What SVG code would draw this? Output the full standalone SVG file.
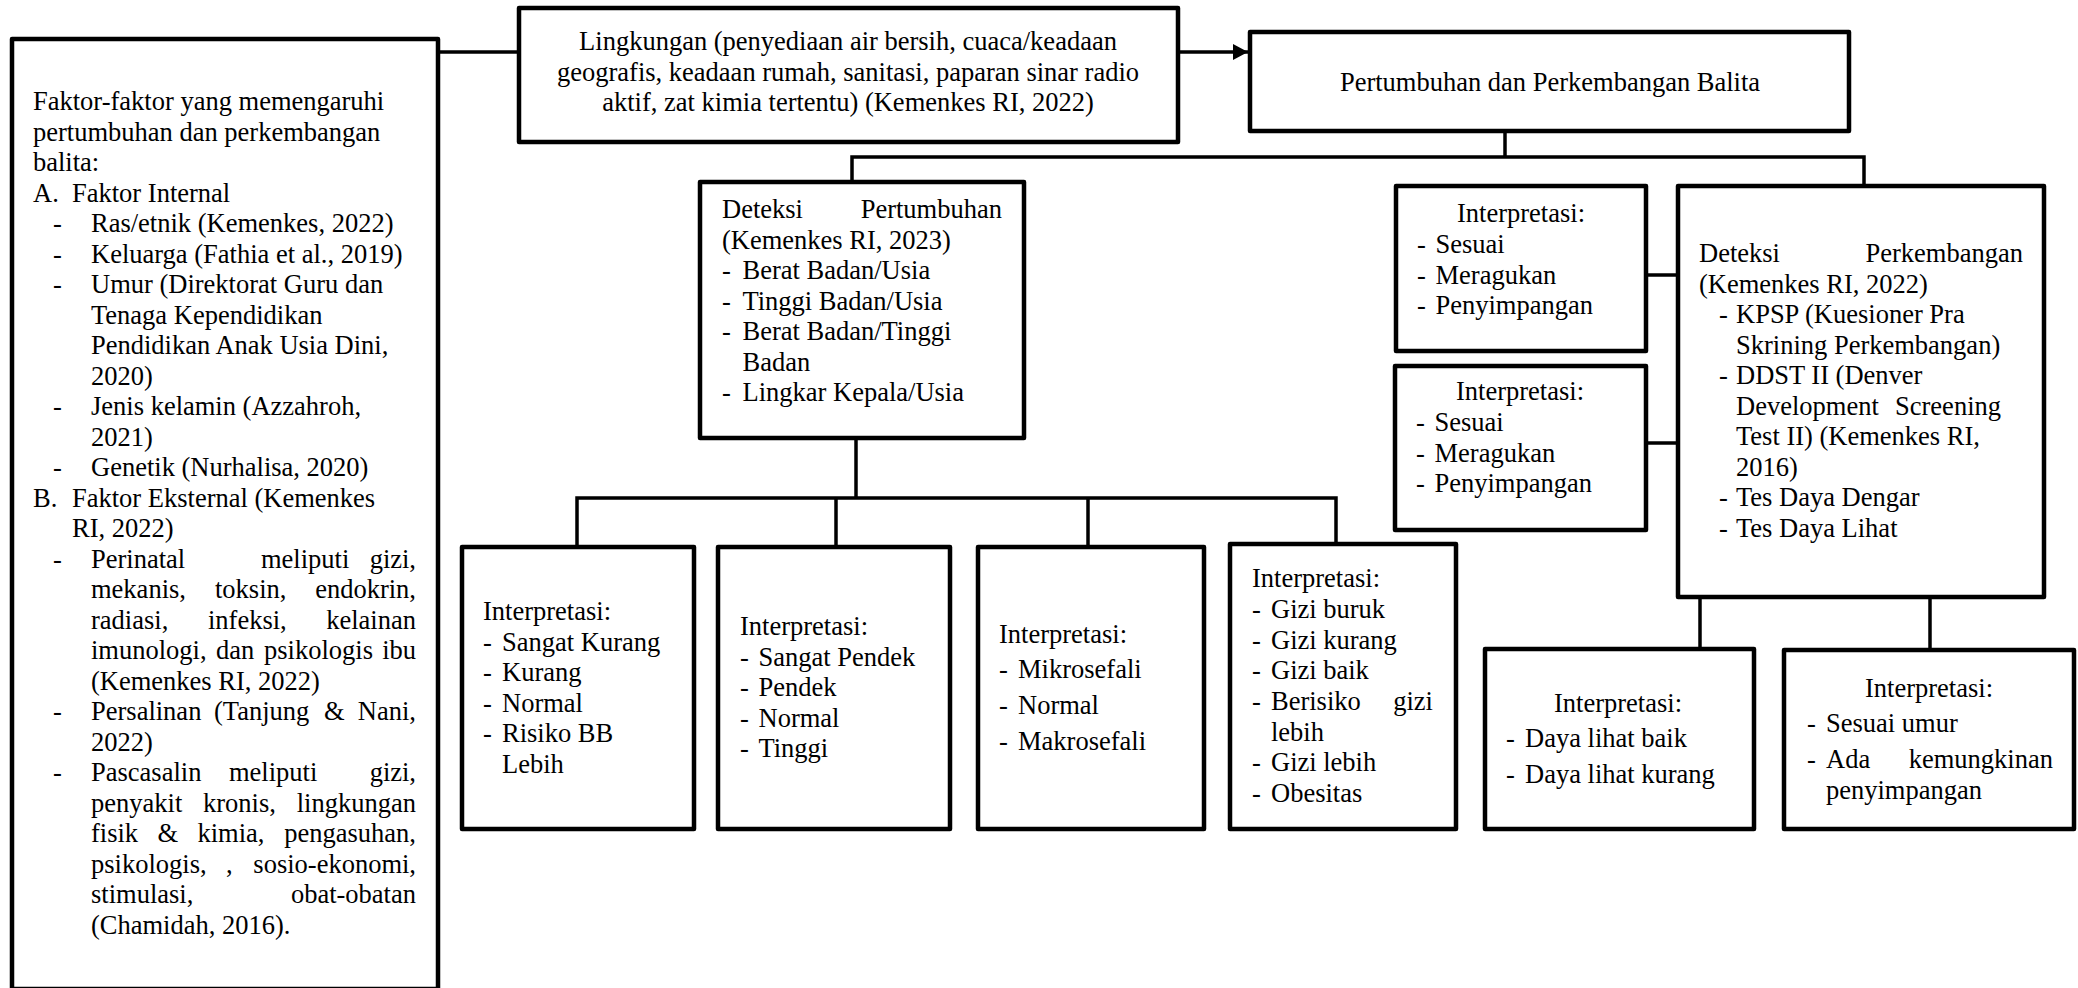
<svg xmlns="http://www.w3.org/2000/svg" width="2078" height="988" viewBox="0 0 2078 988">
<style>
.box{fill:#fff;stroke:#000;stroke-width:4.5;stroke-linejoin:round}
.conn{stroke:#000;stroke-width:3.5;fill:none}
text{font-family:"Liberation Serif","Times New Roman",serif;font-size:26.5px;fill:#000}
.c{text-anchor:middle}
.e{text-anchor:end}
</style>
<defs>
<marker id="arr" markerUnits="userSpaceOnUse" markerWidth="15" markerHeight="16" refX="15" refY="8" orient="auto">
<path d="M0,0 L15,8 L0,16 z" fill="#000"/>
</marker>
</defs>
<rect width="2078" height="988" fill="#fff"/>
<g id="connectors">
<line class="conn" x1="440" y1="52" x2="519" y2="52"/>
<line class="conn" x1="1180" y1="52" x2="1248" y2="52" marker-end="url(#arr)"/>
<polyline class="conn" points="1505,133 1505,157"/>
<polyline class="conn" points="852,182 852,157 1864,157 1864,186"/>
<polyline class="conn" points="856,440 856,498"/>
<polyline class="conn" points="577,547 577,498 1336,498 1336,544"/>
<line class="conn" x1="836" y1="498" x2="836" y2="547"/>
<line class="conn" x1="1088" y1="498" x2="1088" y2="547"/>
<line class="conn" x1="1648" y1="275" x2="1678" y2="275"/>
<line class="conn" x1="1648" y1="443" x2="1678" y2="443"/>
<line class="conn" x1="1700" y1="598" x2="1700" y2="649"/>
<line class="conn" x1="1930" y1="598" x2="1930" y2="650"/>
</g>
<g id="faktor">
<rect class="box" x="12" y="39" width="426" height="950"/>
<text x="33" y="110">Faktor-faktor yang memengaruhi</text>
<text x="33" y="140.5">pertumbuhan dan perkembangan</text>
<text x="33" y="171">balita:</text>
<text x="33" y="201.5">A.</text><text x="72" y="201.5">Faktor Internal</text>
<text x="53" y="232">-</text><text x="91" y="232">Ras/etnik (Kemenkes, 2022)</text>
<text x="53" y="262.5">-</text><text x="91" y="262.5">Keluarga (Fathia et al., 2019)</text>
<text x="53" y="293">-</text><text x="91" y="293">Umur (Direktorat Guru dan</text>
<text x="91" y="323.5">Tenaga Kependidikan</text>
<text x="91" y="354">Pendidikan Anak Usia Dini,</text>
<text x="91" y="384.5">2020)</text>
<text x="53" y="415">-</text><text x="91" y="415">Jenis kelamin (Azzahroh,</text>
<text x="91" y="445.5">2021)</text>
<text x="53" y="476">-</text><text x="91" y="476">Genetik (Nurhalisa, 2020)</text>
<text x="33" y="506.5">B.</text><text x="72" y="506.5">Faktor Eksternal (Kemenkes</text>
<text x="72" y="537">RI, 2022)</text>
<text x="53" y="567.5">-</text><text x="91" y="567.5">Perinatal</text><text x="261" y="567.5">meliputi</text><text class="e" x="416" y="567.5">gizi,</text>
<text x="91" y="598">mekanis,</text><text x="215" y="598">toksin,</text><text class="e" x="416" y="598">endokrin,</text>
<text x="91" y="628.5">radiasi,</text><text x="208" y="628.5">infeksi,</text><text class="e" x="416" y="628.5">kelainan</text>
<text x="91" y="659">imunologi,</text><text x="216" y="659">dan</text><text x="264" y="659">psikologis</text><text class="e" x="416" y="659">ibu</text>
<text x="91" y="689.5">(Kemenkes RI, 2022)</text>
<text x="53" y="720">-</text><text x="91" y="720">Persalinan</text><text x="214" y="720">(Tanjung</text><text x="324" y="720">&amp;</text><text class="e" x="416" y="720">Nani,</text>
<text x="91" y="750.5">2022)</text>
<text x="53" y="781">-</text><text x="91" y="781">Pascasalin</text><text x="229" y="781">meliputi</text><text class="e" x="416" y="781">gizi,</text>
<text x="91" y="811.5">penyakit</text><text x="203" y="811.5">kronis,</text><text class="e" x="416" y="811.5">lingkungan</text>
<text x="91" y="842">fisik</text><text x="157.5" y="842">&amp;</text><text x="197.5" y="842">kimia,</text><text class="e" x="416" y="842">pengasuhan,</text>
<text x="91" y="872.5">psikologis,</text><text x="226" y="872.5">,</text><text class="e" x="416" y="872.5">sosio-ekonomi,</text>
<text x="91" y="903">stimulasi,</text><text class="e" x="416" y="903">obat-obatan</text>
<text x="91" y="933.5">(Chamidah, 2016).</text>
</g>
<g id="lingkungan">
<rect class="box" x="519" y="8" width="659" height="134"/>
<text class="c" x="848" y="50">Lingkungan (penyediaan air bersih, cuaca/keadaan</text>
<text class="c" x="848" y="80.5">geografis, keadaan rumah, sanitasi, paparan sinar radio</text>
<text class="c" x="848" y="111">aktif, zat kimia tertentu) (Kemenkes RI, 2022)</text>
</g>
<g id="pertumbuhan-perkembangan">
<rect class="box" x="1250" y="32" width="599" height="99"/>
<text class="c" x="1550" y="91">Pertumbuhan dan Perkembangan Balita</text>
</g>
<g id="deteksi-pertumbuhan">
<rect class="box" x="700" y="182" width="324" height="256"/>
<text x="722" y="218">Deteksi</text><text class="e" x="1002" y="218">Pertumbuhan</text>
<text x="722" y="248.5">(Kemenkes RI, 2023)</text>
<text x="722" y="279">-</text><text x="742.5" y="279">Berat Badan/Usia</text>
<text x="722" y="309.5">-</text><text x="742.5" y="309.5">Tinggi Badan/Usia</text>
<text x="722" y="340">-</text><text x="742.5" y="340">Berat Badan/Tinggi</text>
<text x="742.5" y="370.5">Badan</text>
<text x="722" y="401">-</text><text x="742.5" y="401">Lingkar Kepala/Usia</text>
</g>
<g id="interpretasi-1">
<rect class="box" x="1396" y="186" width="250" height="165"/>
<text class="c" x="1521" y="222">Interpretasi:</text>
<text x="1417" y="253">-</text><text x="1435.5" y="253">Sesuai</text>
<text x="1417" y="283.5">-</text><text x="1435.5" y="283.5">Meragukan</text>
<text x="1417" y="314">-</text><text x="1435.5" y="314">Penyimpangan</text>
</g>
<g id="interpretasi-2">
<rect class="box" x="1395" y="366" width="251" height="164"/>
<text class="c" x="1520" y="400">Interpretasi:</text>
<text x="1416" y="431">-</text><text x="1434.5" y="431">Sesuai</text>
<text x="1416" y="461.5">-</text><text x="1434.5" y="461.5">Meragukan</text>
<text x="1416" y="492">-</text><text x="1434.5" y="492">Penyimpangan</text>
</g>
<g id="deteksi-perkembangan">
<rect class="box" x="1678" y="186" width="366" height="411"/>
<text x="1699" y="262">Deteksi</text><text class="e" x="2023" y="262">Perkembangan</text>
<text x="1699" y="292.5">(Kemenkes RI, 2022)</text>
<text x="1719" y="323">-</text><text x="1736" y="323">KPSP (Kuesioner Pra</text>
<text x="1736" y="353.5">Skrining Perkembangan)</text>
<text x="1719" y="384">-</text><text x="1736" y="384">DDST II (Denver</text>
<text x="1736" y="414.5">Development</text><text class="e" x="2001" y="414.5">Screening</text>
<text x="1736" y="445">Test II) (Kemenkes RI,</text>
<text x="1736" y="475.5">2016)</text>
<text x="1719" y="506">-</text><text x="1736" y="506">Tes Daya Dengar</text>
<text x="1719" y="536.5">-</text><text x="1736" y="536.5">Tes Daya Lihat</text>
</g>
<g id="interpretasi-bb-u">
<rect class="box" x="462" y="547" width="232" height="282"/>
<text x="483" y="620">Interpretasi:</text>
<text x="483" y="650.5">-</text><text x="502" y="650.5">Sangat Kurang</text>
<text x="483" y="681">-</text><text x="502" y="681">Kurang</text>
<text x="483" y="711.5">-</text><text x="502" y="711.5">Normal</text>
<text x="483" y="742">-</text><text x="502" y="742">Risiko BB</text>
<text x="502" y="772.5">Lebih</text>
</g>
<g id="interpretasi-tb-u">
<rect class="box" x="718" y="547" width="232" height="282"/>
<text x="740" y="635">Interpretasi:</text>
<text x="740" y="665.5">-</text><text x="758.5" y="665.5">Sangat Pendek</text>
<text x="740" y="696">-</text><text x="758.5" y="696">Pendek</text>
<text x="740" y="726.5">-</text><text x="758.5" y="726.5">Normal</text>
<text x="740" y="757">-</text><text x="758.5" y="757">Tinggi</text>
</g>
<g id="interpretasi-lk-u">
<rect class="box" x="978" y="547" width="226" height="282"/>
<text x="999" y="643">Interpretasi:</text>
<text x="999" y="678">-</text><text x="1018" y="678">Mikrosefali</text>
<text x="999" y="714">-</text><text x="1018" y="714">Normal</text>
<text x="999" y="750">-</text><text x="1018" y="750">Makrosefali</text>
</g>
<g id="interpretasi-bb-tb">
<rect class="box" x="1230" y="544" width="226" height="285"/>
<text x="1252" y="587">Interpretasi:</text>
<text x="1252" y="618">-</text><text x="1271" y="618">Gizi buruk</text>
<text x="1252" y="648.5">-</text><text x="1271" y="648.5">Gizi kurang</text>
<text x="1252" y="679">-</text><text x="1271" y="679">Gizi baik</text>
<text x="1252" y="710">-</text><text x="1271" y="710">Berisiko</text><text class="e" x="1433" y="710">gizi</text>
<text x="1271" y="740.5">lebih</text>
<text x="1252" y="771">-</text><text x="1271" y="771">Gizi lebih</text>
<text x="1252" y="802">-</text><text x="1271" y="802">Obesitas</text>
</g>
<g id="interpretasi-daya-lihat">
<rect class="box" x="1485" y="649" width="269" height="180"/>
<text class="c" x="1618" y="712">Interpretasi:</text>
<text x="1506" y="747">-</text><text x="1525" y="747">Daya lihat baik</text>
<text x="1506" y="783">-</text><text x="1525" y="783">Daya lihat kurang</text>
</g>
<g id="interpretasi-kpsp">
<rect class="box" x="1784" y="650" width="290" height="179"/>
<text class="c" x="1929" y="697">Interpretasi:</text>
<text x="1807" y="732">-</text><text x="1826" y="732">Sesuai umur</text>
<text x="1807" y="768">-</text><text x="1826" y="768">Ada</text><text class="e" x="2053" y="768">kemungkinan</text>
<text x="1826" y="799">penyimpangan</text>
</g>
</svg>
